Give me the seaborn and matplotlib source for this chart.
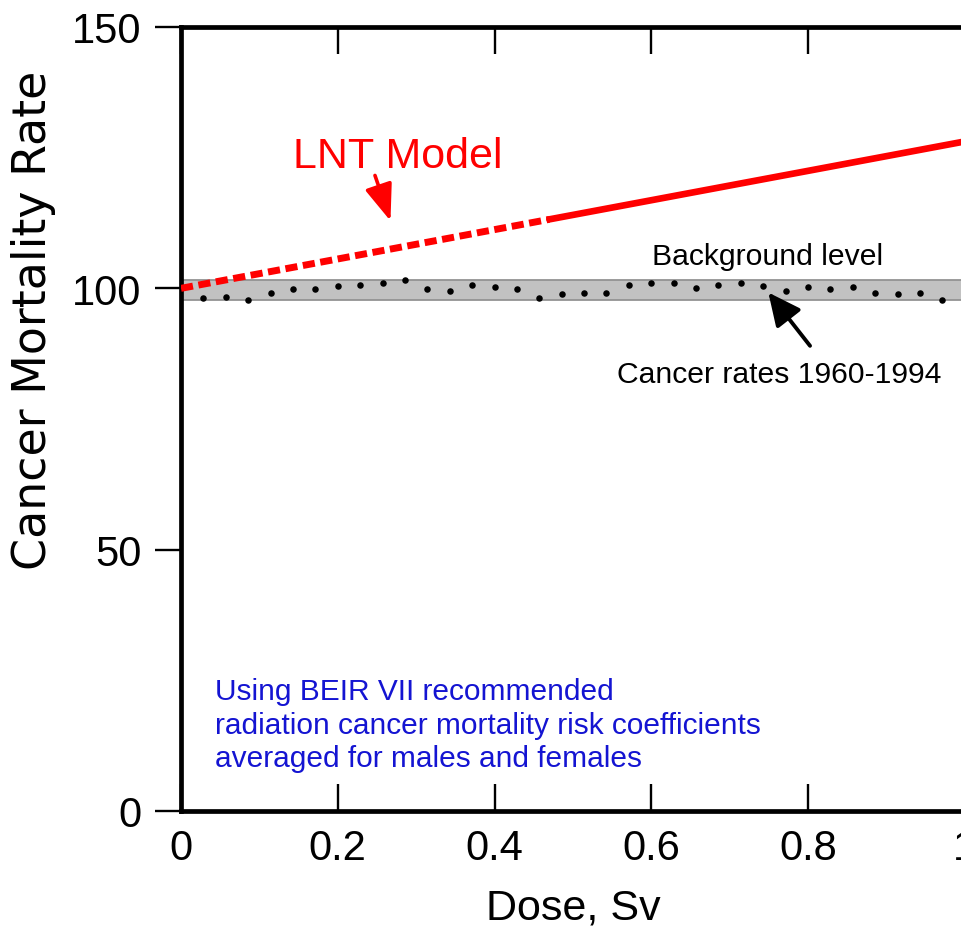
import matplotlib
matplotlib.use("Agg")
import matplotlib.pyplot as plt
import seaborn as sns
import pandas as pd
import numpy as np

# ---- data ----
years = list(range(1960, 1995))
cancer_rates = [98.1, 98.4, 97.8, 99.2, 99.8, 99.8, 100.4, 100.7, 101.0, 101.5,
                99.9, 99.5, 100.7, 100.3, 99.9, 98.1, 98.9, 99.1, 99.2, 100.6,
                101.0, 101.0, 100.0, 100.6, 101.0, 100.5, 99.5, 100.3, 99.8, 100.3,
                99.1, 98.9, 99.2, 97.8, 98.3]
band_low, band_high = 97.8, 101.5
lnt_dashed_dose = [0.0, 0.47]
lnt_dashed_rate = [100.0, 113.2]
lnt_solid_dose = [0.47, 1.0]
lnt_solid_rate = [113.2, 128.1]
x_ticks = [0, 0.2, 0.4, 0.6, 0.8, 1.0]
x_tick_labels = ["0", "0.2", "0.4", "0.6", "0.8", "1"]
y_ticks = [0, 50, 100, 150]

sns.set_style("white")
plt.rcParams['font.family'] = ['Liberation Sans', 'DejaVu Sans']
plt.rcParams['text.color'] = 'black'
plt.rcParams['axes.labelcolor'] = 'black'

W, H = 961, 928
fig = plt.figure(figsize=(W / 100, H / 100), dpi=100)
ax = fig.add_axes([181 / W, 116 / H, 783.75 / W, 784 / H])

# background band
ax.axhspan(band_low, band_high, facecolor="#c2c2c2", edgecolor="#939393",
           linewidth=1.3, zorder=1)

# dots: years mapped onto dose axis
dot_df = pd.DataFrame({"year": years, "rate": cancer_rates})
dot_df["dose"] = (dot_df["year"] - 1959) / len(years)
sns.scatterplot(data=dot_df, x="dose", y="rate", ax=ax, color="black",
                s=22, linewidth=0, zorder=3, clip_on=False)

# LNT model line
dash_df = pd.DataFrame({"dose": lnt_dashed_dose, "rate": lnt_dashed_rate})
solid_df = pd.DataFrame({"dose": lnt_solid_dose, "rate": lnt_solid_rate})
sns.lineplot(data=dash_df, x="dose", y="rate", ax=ax, color="#ff0000",
             linewidth=5.0, zorder=4)
ax.lines[-1].set_linestyle((0, (1.75, 0.8)))
ax.lines[-1].set_dash_capstyle("butt")
sns.lineplot(data=solid_df, x="dose", y="rate", ax=ax, color="#ff0000",
             linewidth=4.8, zorder=4)

ax.set_xlim(0, 1.0)
ax.set_ylim(0, 150)
ax.set_xticks(x_ticks)
ax.set_xticklabels(x_tick_labels)
ax.set_yticks(y_ticks)

for sp in ax.spines.values():
    sp.set_linewidth(3.4)
    sp.set_color("black")
    sp.set_visible(True)

ax.tick_params(axis="x", which="both", direction="in", length=19.5, width=1.7,
               top=True, bottom=True, labelsize=30, pad=12.5, colors="black")
ax.tick_params(axis="y", which="both", direction="out", length=18.5, width=1.7,
               left=True, right=False, labelsize=30, pad=10, colors="black")

ax.set_xlabel("Dose, Sv", fontsize=31, color="black")
ax.set_ylabel("Cancer Mortality Rate", fontsize=33, color="black",
              family=["DejaVu Sans"])
ax.xaxis.set_label_coords(0.5, -0.098)
ax.yaxis.set_label_coords(-0.16, 0.627)

# annotations
ax.text(0.143, 123.2, "LNT Model", color="#ff0000", fontsize=31,
        ha="left", va="baseline")
ax.annotate("", xy=(0.2673, 112.9), xytext=(0.2475, 121.6),
            arrowprops=dict(arrowstyle="-|>,head_length=0.9,head_width=0.34",
                            mutation_scale=25, color="#ff0000", lw=2.6,
                            shrinkA=0, shrinkB=0))
ax.text(0.6006, 104.6, "Background level", color="black", fontsize=21.7,
        ha="left", va="baseline")
ax.text(0.556, 82.0, "Cancer rates 1960-1994", color="black", fontsize=21.7,
        ha="left", va="baseline")
ax.annotate("", xy=(0.7494, 99.2), xytext=(0.8026, 89.0),
            arrowprops=dict(arrowstyle="-|>,head_length=0.8,head_width=0.38",
                            mutation_scale=25, color="black", lw=2.8,
                            shrinkA=0, shrinkB=0))
ax.text(0.0434, 8.6,
        "Using BEIR VII recommended\nradiation cancer mortality risk coefficients\naveraged for males and females",
        color="#1414d2", fontsize=21.5, ha="left", va="baseline", linespacing=1.25)

fig.savefig("out.png", dpi=100)
